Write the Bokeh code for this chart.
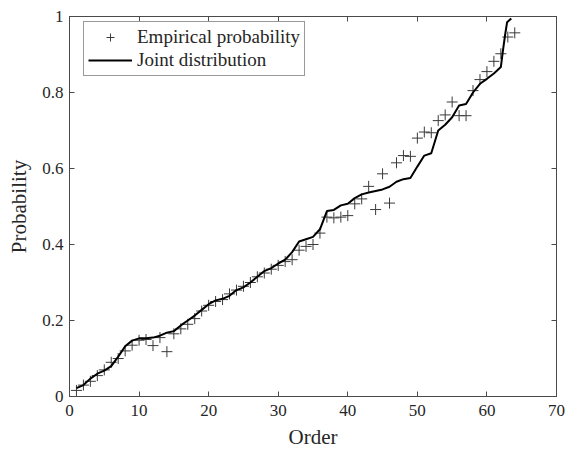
from bokeh.plotting import figure
from bokeh.models import LinearAxis, Range1d, FixedTicker, Legend, LegendItem, CustomJSTickFormatter
from bokeh.embed import file_html
from bokeh.resources import INLINE

# Empirical probability (order 1..64)
emp_order = list(range(1, 65))
emp_prob = [0.016, 0.030, 0.040, 0.055, 0.070, 0.090, 0.100, 0.120, 0.135, 0.148,
            0.150, 0.134, 0.155, 0.118, 0.165, 0.178, 0.190, 0.205, 0.225, 0.240,
            0.250, 0.255, 0.270, 0.280, 0.290, 0.300, 0.315, 0.325, 0.335, 0.345,
            0.355, 0.360, 0.385, 0.395, 0.400, 0.430, 0.472, 0.470, 0.472, 0.476,
            0.507, 0.520, 0.553, 0.492, 0.586, 0.509, 0.615, 0.634, 0.632, 0.680,
            0.696, 0.694, 0.726, 0.741, 0.775, 0.739, 0.739, 0.805, 0.834, 0.855,
            0.882, 0.902, 0.946, 0.957]

# Joint distribution curve
joint_order = list(range(1, 63)) + [62.3, 62.6, 62.9, 63.5]
joint_prob = [0.022, 0.030, 0.047, 0.060, 0.068, 0.080, 0.105, 0.132, 0.147, 0.153,
              0.153, 0.155, 0.160, 0.168, 0.172, 0.187, 0.200, 0.213, 0.228, 0.243,
              0.253, 0.257, 0.265, 0.280, 0.287, 0.300, 0.315, 0.330, 0.338, 0.350,
              0.360, 0.380, 0.408, 0.414, 0.420, 0.440, 0.488, 0.491, 0.503, 0.507,
              0.522, 0.532, 0.537, 0.541, 0.545, 0.552, 0.565, 0.572, 0.575, 0.605,
              0.634, 0.640, 0.700, 0.715, 0.735, 0.766, 0.770, 0.800, 0.823, 0.836,
              0.850, 0.867, 0.910, 0.950, 0.985, 0.995]

x_ticks = [0, 10, 20, 30, 40, 50, 60, 70]
y_ticks = [0, 0.2, 0.4, 0.6, 0.8, 1]
y_tick_labels = {0: "0", 0.2: "0.2", 0.4: "0.4", 0.6: "0.6", 0.8: "0.8", 1: "1"}

FONT = "Liberation Serif"
AXC = "#4a4a4a"
TXT = "#262626"

p = figure(width=566, height=459, output_backend="svg", toolbar_location=None,
           x_range=Range1d(0, 70), y_range=Range1d(0, 1),
           min_border_left=69, min_border_right=10, min_border_top=16, min_border_bottom=63)
p.grid.visible = False
p.outline_line_color = AXC
p.outline_line_width = 1
p.background_fill_color = "white"
p.border_fill_color = "white"

def style_axis(ax, ticks, show_labels):
    ax.ticker = FixedTicker(ticks=ticks)
    ax.axis_line_color = AXC
    ax.axis_line_width = 1
    ax.major_tick_line_color = AXC
    ax.major_tick_in = 5
    ax.major_tick_out = 0
    ax.minor_tick_line_color = None
    ax.major_label_text_font = FONT
    ax.major_label_text_font_size = "17px"
    ax.major_label_text_color = TXT
    ax.axis_label_text_font = FONT
    ax.axis_label_text_font_size = "21px"
    ax.axis_label_text_font_style = "normal"
    ax.axis_label_text_color = TXT
    if not show_labels:
        ax.formatter = CustomJSTickFormatter(code="return '';")
        ax.major_label_standoff = 0

style_axis(p.xaxis[0], x_ticks, True)
style_axis(p.yaxis[0], y_ticks, True)
p.xaxis[0].axis_label = "Order"
p.yaxis[0].axis_label = "Probability"
p.yaxis[0].major_label_overrides = y_tick_labels
p.xaxis[0].major_label_standoff = 8
p.yaxis[0].major_label_standoff = 6
p.xaxis[0].axis_label_standoff = 6
p.yaxis[0].axis_label_standoff = 8

top = LinearAxis()
right = LinearAxis()
style_axis(top, x_ticks, False)
style_axis(right, y_ticks, False)
p.add_layout(top, "above")
p.add_layout(right, "right")

r_emp = p.scatter(emp_order, emp_prob, marker="cross", size=11,
                  line_color="#3a3a3a", line_width=1)
r_joint = p.line(joint_order, joint_prob, line_color="black", line_width=2)

legend = Legend(items=[LegendItem(label="Empirical probability", renderers=[r_emp]),
                       LegendItem(label="Joint distribution", renderers=[r_joint])],
                location=(14, 320))
legend.label_text_font = FONT
legend.label_text_font_size = "19px"
legend.label_text_color = TXT
legend.border_line_color = "#333333"
legend.border_line_width = 1
legend.padding = 4
legend.margin = 0
legend.spacing = 1
legend.glyph_width = 44
legend.glyph_height = 20
legend.label_height = 20
legend.label_standoff = 5
legend.background_fill_alpha = 1
p.add_layout(legend, "center")

open("out.html", "w").write(file_html(p, INLINE))
